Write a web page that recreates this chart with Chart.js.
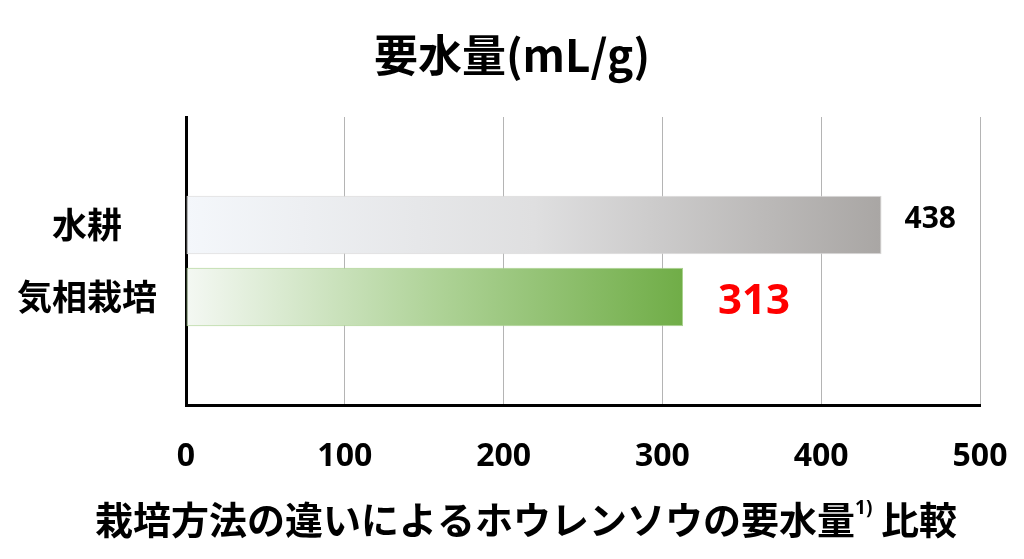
<!DOCTYPE html>
<html>
<head>
<meta charset="utf-8">
<script src="https://cdn.jsdelivr.net/npm/chart.js@4"></script>
<style>
    body { margin: 0; background: #fff; }
    #wrap { width: 1024px; height: 559px; }
</style>
</head>
<body>
<div id="wrap"><canvas id="waterChart" width="1024" height="559"></canvas></div>
<script>
// data
const categories = ['水耕', '気相栽培'];
const waterUse = [438, 313];
const xTicks = [0, 100, 200, 300, 400, 500];
const chartTitle = '要水量(mL/g)';
const axisTitleParts = ['栽培方法の違いによるホウレンソウの要水量', '1)', ' 比較'];

// the original leaves an empty slot above and below the two bars
const labels = ['', ...categories, ''];
const values = [null, ...waterUse, null];

const CJK = '"Noto Sans CJK JP", "Noto Sans", sans-serif';
const NUM = '"Open Sans", "Noto Sans", sans-serif';

const barColors = {
    '水耕': { stops: ['#f4f7fb', '#dfdfe0', '#a9a6a4'], border: '#d9d8d7' },
    '気相栽培': { stops: ['#f4f8f3', '#afd398', '#70ad47'], border: '#a9d18e' }
};

const valueLabelStyle = {
    '水耕': { color: '#000', font: 'bold 30px ' + NUM, gap: 23, dy: -6 },
    '気相栽培': { color: '#ff0000', font: 'bold 42px ' + NUM, gap: 35, dy: 5 }
};

function barFill(ctx) {
    const cat = labels[ctx.dataIndex];
    const col = barColors[cat];
    if (!col) return 'rgba(0,0,0,0)';
    const xScale = ctx.chart.scales.x;
    if (!ctx.chart.chartArea || !xScale || ctx.raw == null) return col.stops[2];
    const x0 = xScale.getPixelForValue(0);
    const x1 = xScale.getPixelForValue(ctx.raw);
    if (!isFinite(x0) || !isFinite(x1) || x1 <= x0) return col.stops[2];
    const g = ctx.chart.ctx.createLinearGradient(x0, 0, x1, 0);
    g.addColorStop(0, col.stops[0]);
    g.addColorStop(0.5, col.stops[1]);
    g.addColorStop(1, col.stops[2]);
    return g;
}

const valueLabels = {
    id: 'valueLabels',
    afterDatasetsDraw(chart) {
        const ctx = chart.ctx;
        const meta = chart.getDatasetMeta(0);
        meta.data.forEach((bar, i) => {
            const v = values[i];
            const style = valueLabelStyle[labels[i]];
            if (v == null || !style) return;
            ctx.save();
            ctx.font = style.font;
            ctx.fillStyle = style.color;
            ctx.textAlign = 'left';
            ctx.textBaseline = 'middle';
            ctx.fillText(String(v), bar.x + style.gap, bar.y + style.dy);
            ctx.restore();
        });
    }
};

const captions = {
    id: 'captions',
    afterDraw(chart) {
        const ctx = chart.ctx;
        ctx.save();
        ctx.fillStyle = '#000';
        ctx.textBaseline = 'middle';

        // main title
        ctx.font = 'bold 44px ' + CJK;
        ctx.textAlign = 'center';
        ctx.fillText(chartTitle, 512, 55);

        // x axis caption with a raised footnote mark
        const big = 'bold 38px ' + CJK;
        const small = 'bold 19px ' + NUM;
        ctx.font = big;
        const w0 = ctx.measureText(axisTitleParts[0]).width;
        const w2 = ctx.measureText(axisTitleParts[2]).width;
        ctx.font = small;
        const w1 = ctx.measureText(axisTitleParts[1]).width;
        let x = 526 - (w0 + w1 + w2) / 2;
        const y = 520;
        ctx.textAlign = 'left';
        ctx.font = big;
        ctx.fillText(axisTitleParts[0], x, y);
        x += w0;
        ctx.font = small;
        ctx.fillText(axisTitleParts[1], x, y - 11);
        x += w1;
        ctx.font = big;
        ctx.fillText(axisTitleParts[2], x, y);
        ctx.restore();
    }
};

new Chart(document.getElementById('waterChart'), {
    type: 'bar',
    data: {
        labels: labels,
        datasets: [{
            data: values,
            backgroundColor: barFill,
            borderColor: (c) => (barColors[labels[c.dataIndex]] || {}).border || 'transparent',
            borderWidth: 1,
            borderSkipped: false,
            barPercentage: 0.81,
            categoryPercentage: 1
        }]
    },
    options: {
        indexAxis: 'y',
        responsive: false,
        animation: false,
        devicePixelRatio: 1,
        layout: { padding: { top: 117, right: 44, left: 0, bottom: 0 } },
        plugins: {
            legend: { display: false },
            tooltip: { enabled: false },
            title: { display: false }
        },
        scales: {
            x: {
                min: xTicks[0],
                max: xTicks[xTicks.length - 1],
                afterBuildTicks: (s) => { s.ticks = xTicks.map(v => ({ value: v })); },
                ticks: {
                    color: '#000',
                    font: { family: NUM, size: 32, weight: 'bold' },
                    padding: 33,
                    maxRotation: 0
                },
                grid: { color: '#b4b4b4', lineWidth: 1, drawTicks: false },
                border: { color: '#000', width: 3 },
                afterFit: (s) => { s.height = 154; s.paddingLeft = 0; s.paddingRight = 0; }
            },
            y: {
                grid: { display: false, drawTicks: false },
                border: { color: '#000', width: 3 },
                ticks: {
                    color: '#000',
                    font: { family: CJK, size: 35, weight: 'bold' },
                    padding: 29,
                    crossAlign: 'center'
                },
                afterFit: (s) => { s.width = 186; s.paddingTop = 0; s.paddingBottom = 0; }
            }
        }
    },
    plugins: [valueLabels, captions]
});
</script>
</body>
</html>
